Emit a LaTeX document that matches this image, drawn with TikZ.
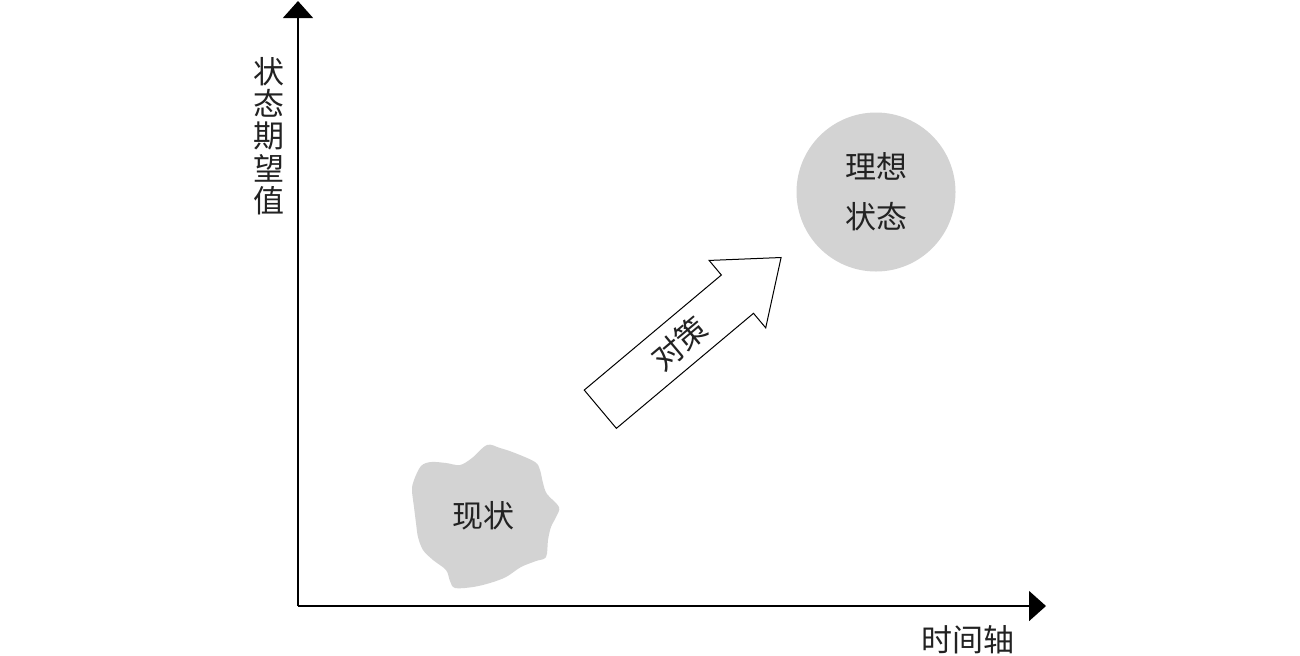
\documentclass[tikz,border=0pt]{standalone}
\usepackage{fontspec}
\newfontfamily\cjk{Noto Sans CJK SC}
\usetikzlibrary{arrows.meta}
\definecolor{shade}{HTML}{D3D3D3}
\definecolor{ink}{HTML}{222222}

\begin{document}
\begin{tikzpicture}[
  x=0.5pt, y=-0.5pt,
  lbl/.style={font=\cjk\fontsize{15.5}{16.2}\selectfont, text=ink, inner sep=0pt, align=center},
  axis/.style={draw=black, line width=0.8pt, -{Triangle[length=8.5pt, width=15pt]}},
  goal/.style={circle, fill=shade, minimum size=79.5pt, inner sep=0pt, align=center,
               font=\cjk\fontsize{15.5}{25}\selectfont, text=ink},
  blob/.style={fill=shade},
  move/.style={draw=black, line width=0.5pt, fill=white, line join=miter}
]
\useasboundingbox (0,0) rectangle (1300,655);
% axes
\coordinate (origin) at (298,606);
\coordinate (ytip) at (298,1);
\coordinate (xtip) at (1046,606);
\draw[axis] (origin) -- (ytip);
\draw[axis] (origin) -- (xtip);
\node[lbl] (vlabel) at (269,136) {状\\态\\期\\望\\值};
\node[lbl] (hlabel) at (968,640) {时间轴};
% current state
\fill[blob] plot[smooth cycle, tension=0.55] coordinates {
  (487,445) (500,448) (515,453) (535,462) (540,470) (543,483) (547,494)
  (559,507) (556,517) (551,527) (548,540) (546,557) (536,561) (521,567)
  (506,577) (490,583) (473,587) (455,588) (450,581) (446,570) (433,560)
  (423,550) (418,537) (416,523) (414,507) (412,490) (414,480) (421,466)
  (431,462) (446,463) (460,465) (472,458)};
\node[lbl] (now) at (483,516) {现状};
% ideal state
\node[goal] (ideal) at (876,192) {理想\\状态};
% measures
\begin{scope}[shift={(600.3,409.2)}, rotate=40]
  \draw[move] (0,25) -- (179,25) -- (179,44) -- (236,0) -- (179,-44) -- (179,-25)
    -- (0,-25) -- cycle;
  \node[lbl, rotate=40] (measure) at (103,0) {对策};
\end{scope}
\end{tikzpicture}
\end{document}
